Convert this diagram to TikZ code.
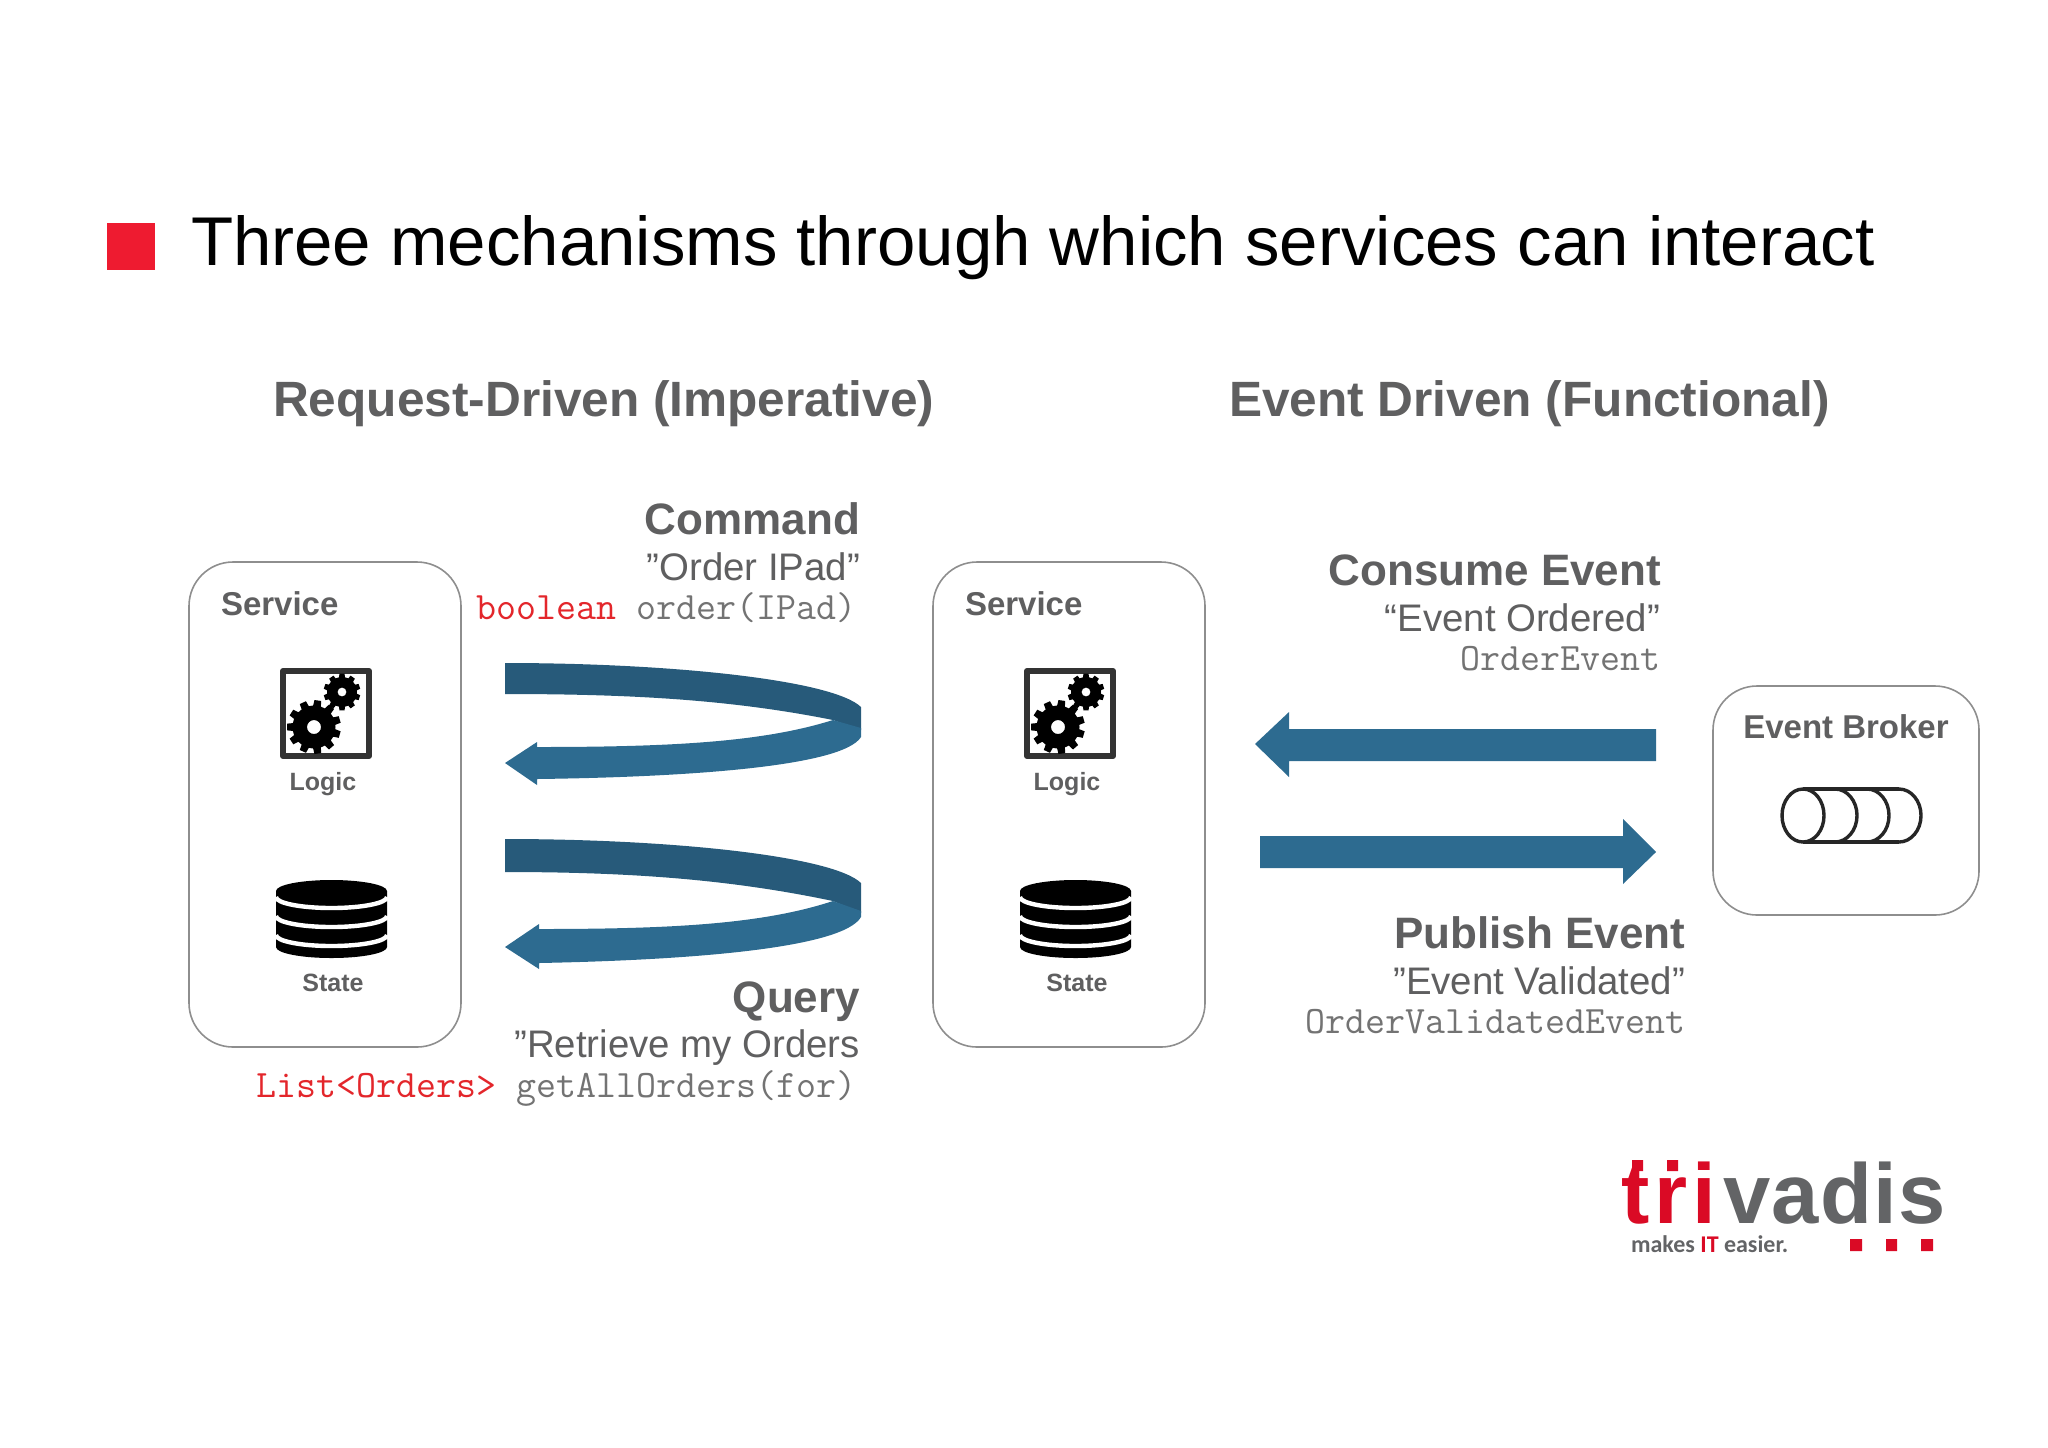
\documentclass[tikz,border=0pt]{standalone}
\usepackage{fontspec}
\setmainfont{Liberation Sans}
\newfontfamily\logofont[LetterSpace=6]{Liberation Sans}
\newfontfamily\logofontb[LetterSpace=1.5]{Liberation Sans}
\newfontfamily\tagfont{Carlito}
\definecolor{txtgray}{HTML}{5F5F60}
\definecolor{codegray}{HTML}{737373}
\definecolor{coderedc}{HTML}{E3262B}
\definecolor{boxline}{HTML}{8E8E8E}
\definecolor{ribdark}{HTML}{275A7A}
\definecolor{riblight}{HTML}{2D6B90}
\definecolor{bulletred}{HTML}{EE1B30}
\definecolor{logored}{HTML}{DA0A25}
\definecolor{logogray}{HTML}{636466}
\newcommand\fsz[1]{\fontsize{#1}{#1}\selectfont}
\newcommand\gearshape[6]{% cx cy teeth outer root hole
  \fill[black,even odd rule] ({#1+#5},#2)
    \foreach \k in {1,...,#3}{
      -- ({#1+#5*cos((\k-1)*360/#3+0.18*360/#3)},{#2+#5*sin((\k-1)*360/#3+0.18*360/#3)})
      -- ({#1+#4*cos((\k-1)*360/#3+0.28*360/#3)},{#2+#4*sin((\k-1)*360/#3+0.28*360/#3)})
      -- ({#1+#4*cos((\k-1)*360/#3+0.72*360/#3)},{#2+#4*sin((\k-1)*360/#3+0.72*360/#3)})
      -- ({#1+#5*cos((\k-1)*360/#3+0.82*360/#3)},{#2+#5*sin((\k-1)*360/#3+0.82*360/#3)})
    } -- cycle ({#1+#6},#2) arc[start angle=0,end angle=360,radius=#6];
}
\tikzset{
  lbl/.style={inner sep=0pt,outer sep=0pt,text=txtgray,font=\bfseries\fsz{22}},
  hdr/.style={lbl,font=\bfseries\fsz{24.8}},
  sub/.style={lbl,font=\fsz{19.2}},
  code/.style={lbl,text=codegray,font=\ttfamily\fsz{19.4}},
  boxlbl/.style={lbl,font=\bfseries\fsz{16.5}},
  iconlbl/.style={lbl,font=\bfseries\fsz{12.5}},
  svcbox/.style={draw=boxline,line width=.8pt,rounded corners=22pt,fill=white},
}
\begin{document}
\begin{tikzpicture}[x=.5pt,y=-.5pt]
\useasboundingbox (0,0) rectangle (2048,1447);
% title
\fill[bulletred] (107,223) rectangle (155,270);
\node[lbl,text=black,font=\fsz{34.5},anchor=base west] (title) at (191,265) {Three mechanisms through which services can interact};
\node[hdr,anchor=base west] (hreq) at (273,416) {Request-Driven (Imperative)};
\node[hdr,anchor=base west] (hevt) at (1229,416) {Event Driven (Functional)};
% service boxes
\foreach \sfx/\dx in {a/0,b/744}{
\begin{scope}[shift={(\dx,0)}]
  \draw[svcbox] (189,562) rectangle (461,1047);
  \node[boxlbl,anchor=base west] (svc\sfx) at (221,615) {Service};
  \draw[line width=3pt,draw=black!80,line join=round] (283,671) rectangle (369,756);
  \gearshape{314}{727}{11}{27}{21.5}{7}
  \gearshape{342}{692}{10}{18.5}{15}{4.5}
  \node[iconlbl,anchor=base] (logic\sfx) at (323,790) {Logic};
  % database
  \fill[black] (276,891) arc[start angle=180,end angle=360,x radius=55.5,y radius=11]
     arc[start angle=0,end angle=180,x radius=55.5,y radius=11] -- cycle;
  \fill[black] (276,891) -- (387,891) -- (387,947) arc[start angle=0,end angle=180,x radius=55.5,y radius=11] -- cycle;
  \foreach \yy in {897,916,935}
    \draw[white,line width=2.2pt] (387,\yy) arc[start angle=0,end angle=180,x radius=55.5,y radius=11];
  \node[iconlbl,anchor=base] (state\sfx) at (333,991) {State};
\end{scope}}
% ribbon 1
\fill[ribdark] (505,663) .. controls (672,663) and (833,680) .. (861,707) -- (861,730) -- (833,720)
  .. controls (733,700) and (635,694) .. (505,694) -- cycle;
\fill[riblight] (833,720) -- (861,728) -- (861,737) .. controls (843,766) and (693,777) .. (537,779)
  -- (537,785) -- (505,763) -- (537,742) -- (537,747) .. controls (673,747) and (763,742) .. (833,720) -- cycle;
% ribbon 2
\fill[ribdark] (505,839) .. controls (672,839) and (833,856) .. (861,883) -- (861,913) -- (833,901)
  .. controls (733,880) and (635,872) .. (505,872) -- cycle;
\fill[riblight] (833,901) -- (861,911) -- (861,917) .. controls (843,948) and (693,960) .. (539,963)
  -- (539,969) -- (505,947) -- (539,924) -- (539,929) .. controls (673,929) and (763,924) .. (833,901) -- cycle;
% straight arrows
\fill[riblight] (1656,729) -- (1289,729) -- (1289,712) -- (1255,744) -- (1289,777) -- (1289,761) -- (1656,761) -- cycle;
\fill[riblight] (1260,836) -- (1623,836) -- (1623,819) -- (1656,852) -- (1623,884) -- (1623,868) -- (1260,868) -- cycle;
% labels
\node[lbl,anchor=base east] (cmd) at (860,534) {Command};
\node[sub,anchor=base east] (cmds) at (860,580) {”Order IPad”};
\node[code,anchor=base east] (cmdc) at (856,619) {\textcolor{coderedc}{boolean} order(IPad)};
\node[lbl,anchor=base east] (qry) at (860,1012) {Query};
\node[sub,anchor=base east] (qrys) at (860,1057) {”Retrieve my Orders};
\node[code,anchor=base east] (qryc) at (856,1097) {\textcolor{coderedc}{List<Orders>} getAllOrders(for)};
\node[lbl,anchor=base east] (con) at (1661,585) {Consume Event};
\node[sub,anchor=base east] (cons) at (1660,631) {“Event Ordered”};
\node[code,anchor=base east] (conc) at (1660,670) {OrderEvent};
\node[lbl,anchor=base east] (pub) at (1685,948) {Publish Event};
\node[sub,anchor=base east] (pubs) at (1685,994) {”Event Validated”};
\node[code,anchor=base east] (pubc) at (1685,1033) {OrderValidatedEvent};
% broker
\draw[svcbox] (1713,686) rectangle (1979,915);
\node[boxlbl,anchor=base] (brk) at (1846,738) {Event Broker};
\begin{scope}[line width=1.7pt,black!85]
  \draw (1803,789) -- (1899,789) (1803,842) -- (1899,842);
  \draw[fill=white] (1803,815.5) ellipse[x radius=21,y radius=26.5];
  \foreach \cx in {1835,1867,1899}
    \draw (\cx,789) arc[start angle=-90,end angle=90,x radius=22,y radius=26.5];
\end{scope}
% logo
\node[lbl,text=logored,font=\logofont\bfseries\fsz{42.5},anchor=base west] (logoa) at (1621,1223) {tri};
\node[lbl,text=logogray,font=\logofontb\bfseries\fsz{42.5},anchor=base west] (logob) at (1723,1223) {vadis};
\fill[logored] (1632,1160) rectangle (1643,1171) (1667,1160) rectangle (1678,1171);
\node[lbl,text=logogray,font=\tagfont\bfseries\fsz{12},anchor=base west] (tag) at (1631,1252) {makes \textcolor{logored}{IT} easier.};
\fill[logored] (1850,1239) rectangle (1862,1251) (1886,1239) rectangle (1897,1251) (1921,1239) rectangle (1933,1251);
\end{tikzpicture}
\end{document}
